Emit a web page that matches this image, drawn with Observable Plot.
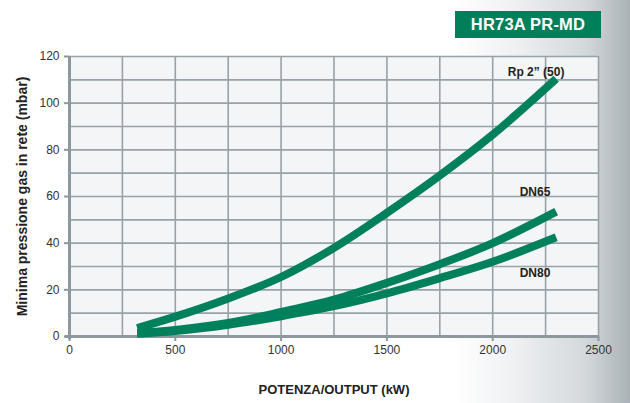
<!DOCTYPE html>
<html>
<head>
<meta charset="utf-8">
<script src="https://cdn.jsdelivr.net/npm/d3@7"></script>
<script src="https://cdn.jsdelivr.net/npm/@observablehq/plot@0.6"></script>
<style>
  html, body { margin: 0; padding: 0; }
  body { width: 630px; height: 403px; overflow: hidden;
    background: linear-gradient(to right, #ffffff 0%, #ffffff 72%, #eef0f2 82%, #d3d8db 93%, #aab2b7 100%);
    font-family: "Liberation Sans", Arial, sans-serif; }
  #wrap { position: relative; width: 630px; height: 403px; }
  #title { position: absolute; left: 455px; top: 11px; width: 146px; height: 27px;
    background: #00805a; color: #fff; font-weight: bold; font-size: 16.5px;
    line-height: 27px; text-align: center; letter-spacing: 0.2px; }
</style>
</head>
<body>
<div id="wrap"><div id="title">HR73A PR-MD</div></div>
<script>
const power = [320, 500, 750, 1000, 1250, 1500, 1750, 2000, 2300];
const rp2 = [3.6, 8.5, 16.3, 25.5, 38, 53, 69, 86.5, 110.5];
const dn65 = [1.5, 2.8, 5.8, 10.5, 15.8, 23, 31, 40, 53.5];
const dn80 = [1.2, 2.3, 5, 8.7, 13, 18.5, 25, 32, 42.5];
const seriesNames = ["Rp 2\u201d (50)", "DN65", "DN80"];
const xTicks = [0, 500, 1000, 1500, 2000, 2500];
const yTicks = [0, 20, 40, 60, 80, 100, 120];

const seriesValues = [rp2, dn65, dn80];
const data = [];
seriesNames.forEach((s, i) => power.forEach((p, j) => data.push({series: s, x: p, y: seriesValues[i][j]})));

const labels = [
  {text: seriesNames[0], x: 2205, y: 113.5, anchor: "end"},
  {text: seriesNames[1], x: 2200, y: 62, anchor: "middle"},
  {text: seriesNames[2], x: 2200, y: 27, anchor: "middle"}
];

const grid = "#97a2a9";
const chart = Plot.plot({
  width: 630,
  height: 403,
  marginLeft: 69,
  marginRight: 32,
  marginTop: 56,
  marginBottom: 67,
  style: {background: "transparent", fontFamily: "Liberation Sans, Arial, sans-serif"},
  x: {domain: [0, 2500]},
  y: {domain: [0, 120]},
  marks: [
    Plot.frame({fill: "#f3f5f7", stroke: null}),
    Plot.ruleX(d3.range(250, 2501, 250), {stroke: grid, strokeWidth: 1.6}),
    Plot.ruleY(d3.range(10, 121, 10), {stroke: grid, strokeWidth: 1.6}),
    Plot.axisX({ticks: xTicks, tickFormat: d => String(d), tickSize: 5, tickPadding: 4, fontSize: 12, color: "#333", stroke: "#8d989e", strokeWidth: 2, label: null}),
    Plot.axisY({ticks: yTicks, tickFormat: d => String(d), tickSize: 5, tickPadding: 5, fontSize: 12, color: "#333", stroke: "#8d989e", strokeWidth: 2, label: null}),
    Plot.ruleX([0], {y1: -1.3, y2: 120, stroke: "#8d989e", strokeWidth: 3}),
    Plot.ruleY([0], {x1: -20, x2: 2500, stroke: "#8d989e", strokeWidth: 3}),
    Plot.line(data, {x: "x", y: "y", z: "series", stroke: "#00805c", strokeWidth: 8, curve: "catmull-rom", strokeLinecap: "butt"}),
    Plot.text(labels, {x: "x", y: "y", text: "text", textAnchor: d => d.anchor, fontSize: 12, fontWeight: "bold", fill: "#222"}),
    Plot.text(["Minima pressione gas in rete (mbar)"], {frameAnchor: "left", dx: -47, rotate: -90, fontSize: 14, fontWeight: "bold", fill: "#222", textAnchor: "middle"}),
    Plot.text(["POTENZA/OUTPUT (kW)"], {frameAnchor: "bottom", dy: 57, fontSize: 13, fontWeight: "bold", fill: "#222", textAnchor: "middle"})
  ]
});
document.getElementById("wrap").prepend(chart);
</script>
</body>
</html>
